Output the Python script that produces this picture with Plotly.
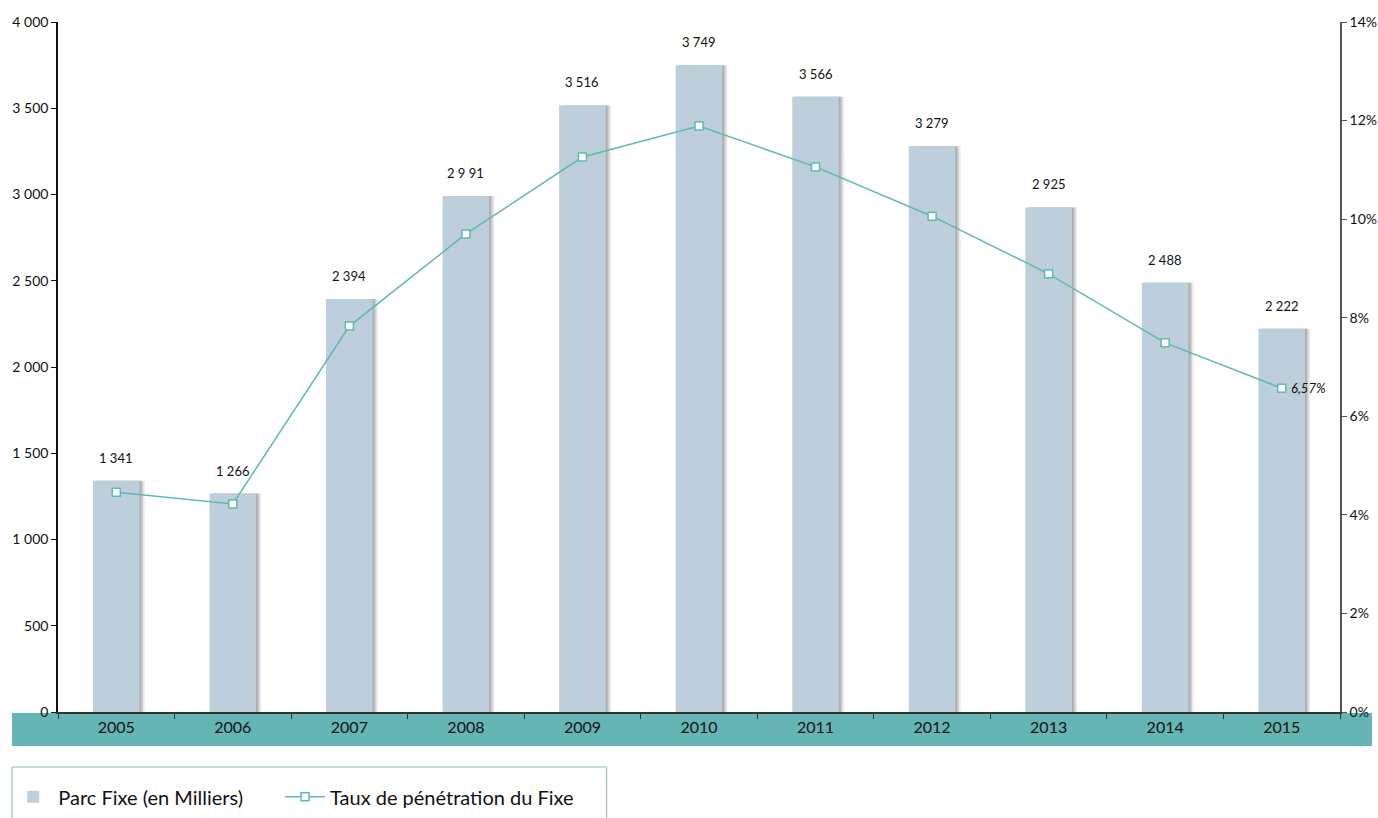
import plotly.graph_objects as go

# Fixed-line subscriptions (thousands) and penetration rate (%)
years = ["2005", "2006", "2007", "2008", "2009", "2010", "2011", "2012", "2013", "2014", "2015"]
parc_fixe = [1341, 1266, 2394, 2991, 3516, 3749, 3566, 3279, 2925, 2488, 2222]
parc_labels = ["1 341", "1 266", "2 394", "2 9 91", "3 516", "3 749", "3 566", "3 279", "2 925", "2 488", "2 222"]
taux = [4.46, 4.22, 7.83, 9.70, 11.26, 11.89, 11.06, 10.06, 8.89, 7.49, 6.57]

left_ticks = [0, 500, 1000, 1500, 2000, 2500, 3000, 3500, 4000]
left_ticktext = ["0", "500", "1 000", "1 500", "2 000", "2 500", "3 000", "3 500", "4 000"]
right_ticks = [0, 2, 4, 6, 8, 10, 12, 14]
right_ticktext = ["0%", "2%", "4%", "6%", "8%", "10%", "12%", "14%"]

FONT = "Lato, 'Open Sans', sans-serif"
BAR = "#bccfda"
TEAL = "#5fb9b4"
BAND = "#64b5b3"

fig = go.Figure()

# soft drop shadow behind the bars
for off, op in [(0.045, 0.12), (0.03, 0.2), (0.015, 0.28)]:
    fig.add_trace(go.Bar(
        x=years, y=parc_fixe, width=0.40, offset=-0.20 + off,
        marker=dict(color=f"rgba(90,90,90,{op})", line=dict(width=0)),
        showlegend=False, hoverinfo="skip",
    ))

fig.add_trace(go.Bar(
    x=years, y=parc_fixe, width=0.40, offset=-0.20,
    marker=dict(color=BAR, line=dict(width=0)),
    name="Parc Fixe (en Milliers)", legend="legend",
))

fig.add_trace(go.Scatter(
    x=years, y=taux, yaxis="y2", mode="lines+markers",
    line=dict(color=TEAL, width=1.5),
    marker=dict(symbol="square", size=8, color="white", line=dict(color=TEAL, width=1.5)),
    name="Taux de pénétration du Fixe", legend="legend2",
))

annotations = []
for i, (v, lab) in enumerate(zip(parc_fixe, parc_labels)):
    annotations.append(dict(x=i, y=v, text=lab, showarrow=False, yshift=23,
                            font=dict(size=13, color="#111", family=FONT)))
annotations.append(dict(x=len(years) - 1, y=taux[-1], yref="y2", text="<i>6,57%</i>", showarrow=False,
                        xanchor="left", xshift=7, font=dict(size=13, color="#111", family=FONT)))

shapes = [
    # teal band carrying the year labels
    dict(type="rect", xref="paper", yref="paper", x0=-0.0359, x1=1.025, y0=-0.0493, y1=-0.0015,
         fillcolor=BAND, line=dict(width=0), layer="below"),
    # legend frame
    dict(type="rect", xref="paper", yref="paper", x0=-0.0359, x1=0.428, y0=-0.16, y1=-0.0797,
         fillcolor="rgba(0,0,0,0)", line=dict(color="#7cc4c1", width=1)),
]

legend_common = dict(orientation="h", xref="container", yref="container", xanchor="left",
                     y=0.026, yanchor="middle", bgcolor="rgba(0,0,0,0)", borderwidth=0,
                     itemwidth=40, font=dict(size=20, color="#111", family=FONT))

fig.update_layout(
    width=1378, height=818,
    margin=dict(l=58, r=38, t=22, b=106, autoexpand=False),
    paper_bgcolor="white", plot_bgcolor="white",
    barmode="overlay",
    font=dict(family=FONT, color="#111"),
    annotations=annotations, shapes=shapes,
    xaxis=dict(type="category", range=[-0.5, len(years) - 0.5], showgrid=False, automargin=False,
               showline=True, linecolor="#333", linewidth=1.5,
               ticks="outside", ticklen=5, tickcolor="#333", tickson="boundaries",
               tickangle=0, tickfont=dict(size=16, color="#111", family=FONT)),
    yaxis=dict(range=[0, 4000], tickvals=left_ticks, ticktext=left_ticktext, showgrid=False,
               zeroline=False, showline=True, linecolor="#111", linewidth=1.5, automargin=False,
               ticks="outside", ticklen=5, tickcolor="#111",
               tickfont=dict(size=14, color="#111", family=FONT)),
    yaxis2=dict(range=[0, 14], overlaying="y", side="right", tickvals=right_ticks,
                ticktext=right_ticktext, showgrid=False, zeroline=False, showline=True, automargin=False,
                linecolor="#555", linewidth=1.5, ticks="outside", ticklen=5, tickcolor="#555",
                tickfont=dict(size=14, color="#111", family=FONT)),
    legend=dict(x=0.006, **legend_common),
    legend2=dict(x=0.2032, **legend_common),
)

fig.write_html("out.html")
